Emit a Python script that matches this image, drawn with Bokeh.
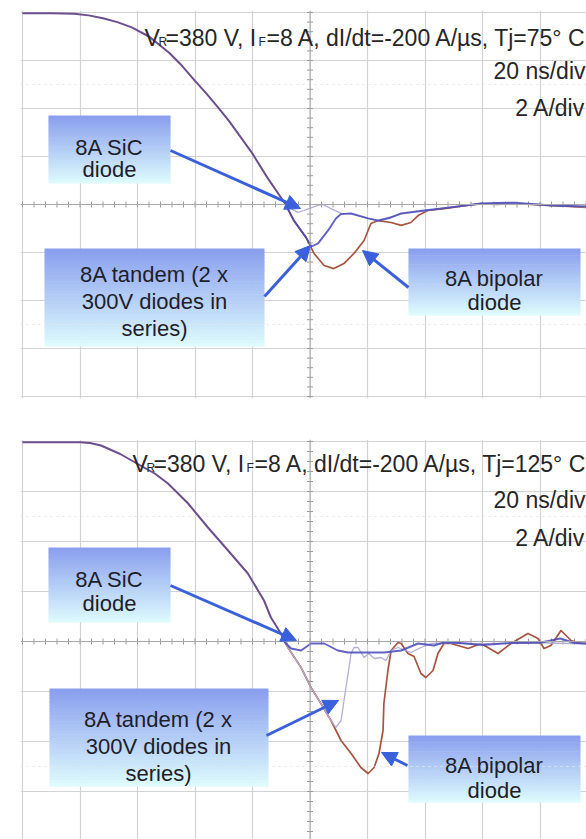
import numpy as np
from bokeh.plotting import figure
from bokeh.models import Label, Arrow, NormalHead, FixedTicker, Span
from bokeh.layouts import column
from bokeh.embed import file_html
from bokeh.resources import INLINE

# ---------------- data (time in ns, 20 ns/div; current in A, 2 A/div) ----------------
time_grid = [-100, -80, -60, -40, -20, 0, 20, 40, 60, 80, 100]
current_grid = [-8, -6, -4, -2, 0, 2, 4, 6, 8]

# Tj = 75 °C : common falling edge (all three diodes overlap)
fall75_t = [-100, -90, -82, -77, -72, -67, -62, -56, -49, -44.5, -40, -36, -32, -28, -25,
            -20, -15, -10, -8.5]
fall75_i = [7.97, 7.97, 7.95, 7.88, 7.76, 7.6, 7.38, 7.0, 6.32, 5.78, 5.15, 4.62, 4.05,
            3.45, 2.95, 2.12, 1.15, 0.27, 0.0]

bip75_t = [-8.5, -5.6, -1.4, 1.4, 4.9, 8.3, 11.8, 15.3, 18.8, 21.2, 23.7, 28.2, 31.7, 35.1,
           37.6, 41, 46.6, 52, 59.5, 65, 71, 77, 83.8, 90, 96.3]
bip75_i = [0.0, -0.67, -1.37, -2.04, -2.54, -2.67, -2.46, -2.04, -1.5, -0.79, -0.67, -0.75,
           -0.87, -0.75, -0.46, -0.25, -0.17, -0.08, 0.04, 0.0, 0.04, 0.0, -0.04, -0.08, -0.12]

tan75_t = [-8.5, -5.6, -1.4, 0.5, 2.8, 6.3, 9, 10.8, 14.3, 20.2, 23.7, 28, 31.7, 39.7, 49,
           59.5, 65, 71, 77, 83.8, 90, 96.3]
tan75_i = [0.0, -0.67, -1.37, -1.75, -1.62, -1.08, -0.58, -0.4, -0.37, -0.58, -0.67, -0.55,
           -0.37, -0.25, -0.12, 0.04, 0.06, 0.08, 0.02, -0.04, -0.06, -0.08]

sic75_t = [-8.5, -6.6, -4.2, -2.1, -0.35, 2.8, 4.5, 7.3, 10.8, 14.3, 20.2, 23.7, 31.7, 39.7,
           49, 59.5, 71, 83.8, 96.3]
sic75_i = [0.0, -0.17, -0.33, -0.25, -0.17, -0.04, 0.0, -0.17, -0.37, -0.4, -0.58, -0.65,
           -0.4, -0.27, -0.1, 0.02, 0.06, -0.02, -0.1]

# Tj = 125 °C
fall125_t = [-100, -80, -76.5, -72.7, -66, -59, -54, -49.4, -42.4, -35.5, -28.5, -21.6, -16,
             -13.6, -10, -9]
fall125_i = [7.97, 7.97, 7.94, 7.84, 7.5, 7.04, 6.72, 6.32, 5.52, 4.56, 3.64, 2.72, 1.64,
             0.96, 0.3, 0.04]

bip125_t = [-9, -7.7, -3.1, 0.35, 3.8, 7.3, 10.8, 14.3, 17.7, 20.2, 22.3, 24, 25.4, 25.7,
            27.1, 28.2, 30.6, 31.7, 34.1, 36.2, 38.6, 40.3, 42.8, 44.5, 46.6, 49, 55, 59.5,
            65.4, 69.9, 75.8, 79.3, 81.4, 83.8, 87.3, 90.8, 94.3, 96.3]
bip125_i = [0.04, -0.24, -1.04, -1.84, -2.48, -3.16, -3.96, -4.48, -5.04, -5.28, -5.04,
            -4.48, -3.56, -2.48, -1.16, -0.36, -0.04, -0.08, -0.48, -0.6, -1.28, -1.44,
            -1.16, -0.48, -0.08, -0.08, -0.28, -0.08, -0.48, -0.08, 0.32, 0.12, -0.28,
            -0.16, 0.44, 0.04, -0.08, -0.08]

tan125_t = [-9, -7.7, -3.1, 0.35, 3.8, 7.3, 9, 10.8, 12.5, 14.3, 15.3, 16.7, 18.8, 20.5,
            22.3, 24.7, 26.4, 28.2, 30.6, 35.1, 38.6, 42.1, 49, 59, 70, 80, 90, 96.3]
tan125_i = [0.04, -0.24, -1.04, -1.84, -2.48, -3.16, -3.44, -3.16, -1.84, -0.48, -0.24,
            -0.24, -0.64, -0.48, -0.68, -0.64, -0.76, -0.36, -0.24, -0.44, -0.24, -0.08,
            -0.05, -0.1, -0.05, -0.05, -0.08, -0.08]

sic125_t = [-9, -6.6, -3.1, 0.35, 4.9, 9.7, 13.2, 20.2, 25.7, 31.7, 37.6, 43.1, 46.6, 52,
            60, 70, 80, 87, 92, 96.3]
sic125_i = [0.0, -0.28, -0.36, -0.08, -0.08, -0.36, -0.44, -0.44, -0.44, -0.36, -0.08,
            -0.16, -0.04, -0.06, -0.14, -0.06, -0.05, 0.12, -0.06, -0.08]

# ---------------- styling ----------------
BROWN = "#a5543f"
DARK = "#4646b8"
LIGHT = "#b2aed6"
PURPLE = "#6c4f8c"
ARROW = "#3a60da"
GRID = "#d2d2d2"
FONT = "Liberation Sans"
PX_NS = 2.875          # pixels per ns
X0 = 309.5             # page x of t = 0


def X(px):
    return (px - X0) / PX_NS


def make_panel(height, border_top, border_bottom, page_top, y0_page, px_a,
               fall, tails, header, sub_lines, boxes, arrows):
    frame_top = page_top + border_top
    frame_bot = page_top + height - border_bottom

    def Y(py):
        return (y0_page - py) / px_a

    p = figure(width=586, height=height, output_backend="svg", toolbar_location=None,
               x_range=(X(20), X(586)), y_range=(Y(frame_bot), Y(frame_top)),
               min_border_left=20, min_border_right=0,
               min_border_top=border_top, min_border_bottom=border_bottom,
               x_axis_location=None, y_axis_location=None)
    p.outline_line_color = None
    p.background_fill_color = "white"
    p.border_fill_color = "white"
    p.xgrid.ticker = FixedTicker(ticks=time_grid)
    p.ygrid.ticker = FixedTicker(ticks=current_grid)
    p.grid.grid_line_color = GRID
    p.grid.grid_line_width = 1.2

    # faint dotted reference lines
    for yv in (5, -5):
        p.add_layout(Span(location=yv, dimension="width", line_color="#e4e4e4",
                          line_dash="2 4", line_width=1))
    # centre cross with small division ticks
    p.add_layout(Span(location=0, dimension="width", line_color="#a8a8a8", line_width=1))
    p.add_layout(Span(location=0, dimension="height", line_color="#a8a8a8", line_width=1))
    tt = np.arange(-100, 101, 4.0)
    p.segment(x0=tt, y0=-3 / px_a, x1=tt, y1=3 / px_a, line_color="#9a9a9a", line_width=1)
    ii = np.arange(-8, 8.01, 0.4)
    p.segment(x0=-3 / PX_NS, y0=ii, x1=3 / PX_NS, y1=ii, line_color="#9a9a9a", line_width=1)

    # traces
    for (t, i, col, w, a) in tails:
        p.line(t, i, line_color=col, line_width=w, line_alpha=a, line_join="round")
    p.line(fall[0], fall[1], line_color=PURPLE, line_width=2, line_join="round")

    # gradient label boxes
    top_c = np.array([0x8a, 0x9f, 0xee], dtype=float)
    bot_c = np.array([0xdd, 0xfa, 0xfd], dtype=float)
    for (x1, y1, x2, y2, cx, lines) in boxes:
        n = 30
        for k in range(n):
            f = k / (n - 1)
            c = top_c + (bot_c - top_c) * f
            col = "#%02x%02x%02x" % tuple(int(round(v)) for v in c)
            ya = y1 + (y2 - y1) * k / n
            yb = y1 + (y2 - y1) * (k + 1) / n + 0.6
            p.quad(left=X(x1), right=X(x2), top=Y(ya), bottom=Y(min(yb, y2)),
                   fill_color=col, line_color=None)
        for (txt, base) in lines:
            p.add_layout(Label(x=X(cx), y=Y(base), text=txt, text_align="center",
                               text_baseline="alphabetic", text_font=FONT,
                               text_font_size="22px", text_color="#1e1e2a"))

    # arrows
    for (xs, ys, xe, ye) in arrows:
        p.add_layout(Arrow(end=NormalHead(size=15, fill_color=ARROW, line_color=ARROW),
                           x_start=X(xs), y_start=Y(ys), x_end=X(xe), y_end=Y(ye),
                           line_color=ARROW, line_width=3))

    # header text
    for (px, py, txt, size) in header:
        p.add_layout(Label(x=X(px), y=Y(py), text=txt, text_align="left",
                           text_baseline="alphabetic", text_font=FONT,
                           text_font_size=size, text_color="#262626"))
    for (px, py, txt) in sub_lines:
        p.add_layout(Label(x=X(px), y=Y(py), text=txt, text_align="right",
                           text_baseline="alphabetic", text_font=FONT,
                           text_font_size="23px", text_color="#262626"))
    return p


p1 = make_panel(
    420, 10, 22, 0, 204, 24,
    (fall75_t, fall75_i),
    [(bip75_t, bip75_i, BROWN, 1.7, 1.0),
     (sic75_t, sic75_i, LIGHT, 1.3, 1.0),
     (tan75_t, tan75_i, DARK, 1.9, 0.85)],
    [(144, 37, "V", "23px"), (158, 41, "R", "12px"), (165, 37, "=380 V, I", "23px"),
     (258, 41, "F", "12px"), (266, 37, "=8 A, dI/dt=-200 A/µs, Tj=75° C", "23px")],
    [(585, 70, "20 ns/div"), (585, 107, "2 A/div")],
    [(48, 115, 170, 183, 109, [("8A SiC", 147), ("diode", 169)]),
     (44, 248, 264, 346, 154, [("8A tandem (2 x", 274), ("300V diodes in", 301),
                               ("series)", 328)]),
     (408, 248, 580, 315, 494, [("8A bipolar", 278), ("diode", 302)])],
    [(170, 150, 300, 208), (264, 296, 310, 245), (408, 287, 362, 250)],
)

p2 = make_panel(
    419, 19, 0, 420, 641, 25,
    (fall125_t, fall125_i),
    [(bip125_t, bip125_i, BROWN, 1.7, 1.0),
     (tan125_t, tan125_i, LIGHT, 1.3, 1.0),
     (sic125_t, sic125_i, DARK, 1.9, 0.85)],
    [(132, 463, "V", "23px"), (146, 467, "R", "12px"), (153, 463, "=380 V, I", "23px"),
     (246, 467, "F", "12px"), (254, 463, "=8 A, dI/dt=-200 A/µs, Tj=125° C", "23px")],
    [(585, 499, "20 ns/div"), (585, 537, "2 A/div")],
    [(48, 547, 170, 622, 109, [("8A SiC", 579), ("diode", 603)]),
     (49, 688, 268, 786, 158, [("8A tandem (2 x", 719), ("300V diodes in", 746),
                               ("series)", 773)]),
     (408, 735, 580, 802, 494, [("8A bipolar", 765), ("diode", 790)])],
    [(170, 585, 296, 640), (266, 735, 338, 700), (407, 765, 381, 752)],
)

layout = column(p1, p2, spacing=0)
open("out.html", "w").write(file_html(layout, INLINE))
